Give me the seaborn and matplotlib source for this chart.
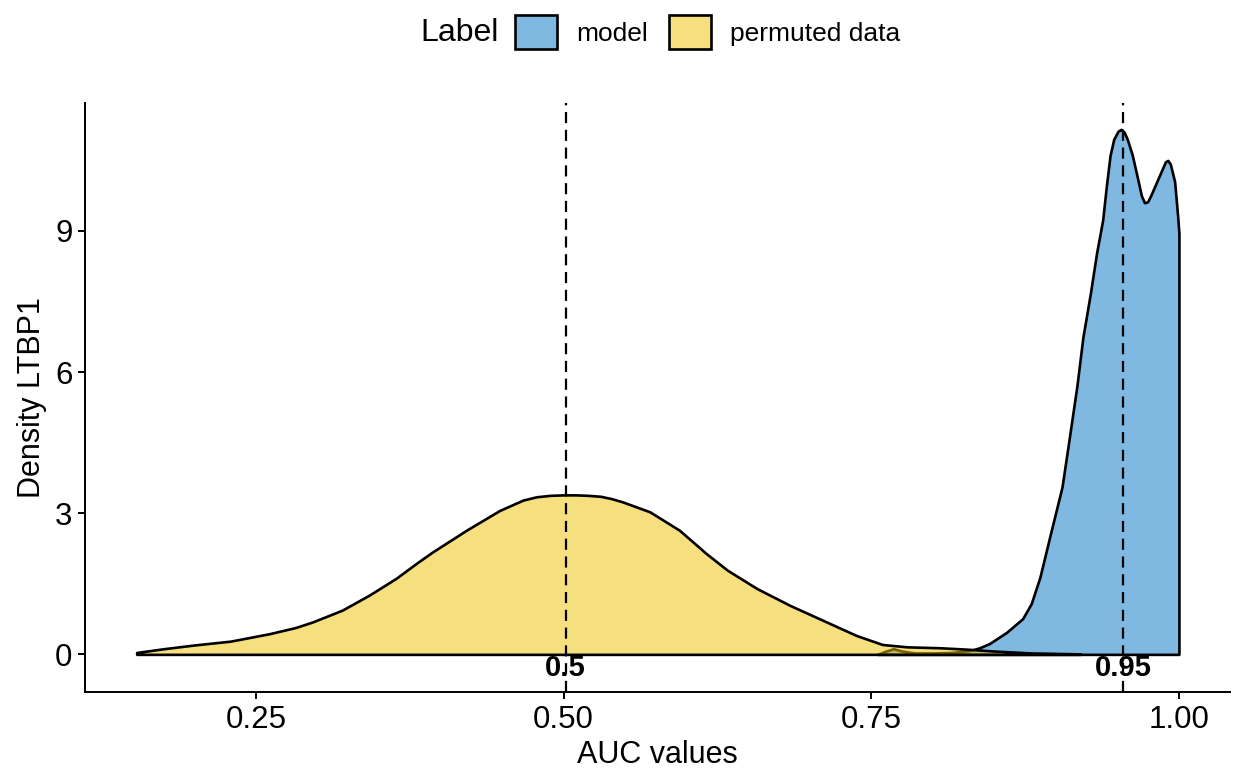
"""Density of AUC values for LTBP1: model vs permuted data."""

import matplotlib

matplotlib.use("Agg")

import matplotlib.pyplot as plt
import pandas as pd
import seaborn as sns
from matplotlib.colors import to_rgba
from matplotlib.patches import Patch

# density curves (x = AUC, y = density)
model_x = [0.755, 0.762, 0.768, 0.775, 0.785, 0.800, 0.815, 0.830, 0.838, 0.846,
           0.860, 0.873, 0.880, 0.887, 0.895, 0.905, 0.911, 0.917, 0.922, 0.928,
           0.933, 0.938, 0.941, 0.944, 0.947, 0.9505, 0.953, 0.9555, 0.958, 0.962,
           0.966, 0.9695, 0.972, 0.9745, 0.977, 0.982, 0.987, 0.989, 0.991, 0.993,
           0.9965, 0.999, 1.000]
model_y = [0.00, 0.07, 0.12, 0.07, 0.03, 0.03, 0.04, 0.08, 0.14, 0.23,
           0.47, 0.76, 1.08, 1.64, 2.50, 3.56, 4.62, 5.69, 6.75, 7.67,
           8.52, 9.23, 9.95, 10.60, 10.95, 11.12, 11.16, 11.10, 10.95, 10.62,
           10.16, 9.75, 9.60, 9.62, 9.75, 10.05, 10.35, 10.47, 10.50, 10.42,
           10.05, 9.30, 8.95]

perm_x = [0.153, 0.175, 0.200, 0.229, 0.261, 0.282, 0.296, 0.320, 0.342, 0.364,
          0.380, 0.393, 0.421, 0.448, 0.467, 0.478, 0.489, 0.500, 0.510, 0.520,
          0.530, 0.539, 0.548, 0.570, 0.594, 0.616, 0.633, 0.657, 0.684, 0.711,
          0.738, 0.759, 0.779, 0.806, 0.828, 0.850, 0.880, 0.920]
perm_y = [0.04, 0.12, 0.20, 0.28, 0.44, 0.57, 0.69, 0.94, 1.26, 1.62,
          1.93, 2.17, 2.64, 3.06, 3.28, 3.35, 3.38, 3.39, 3.39, 3.38,
          3.36, 3.31, 3.24, 3.03, 2.64, 2.14, 1.79, 1.40, 1.04, 0.72,
          0.40, 0.21, 0.16, 0.14, 0.11, 0.07, 0.03, 0.01]

groups = ["model", "permuted data"]
group_colors = ["#0073C2", "#EFC000"]

# mean AUC per group and their printed labels
mean_values = [0.9545, 0.5016]
mean_labels = ["0.95", "0.5"]
label_y = -0.28

x_ticks = [0.25, 0.50, 0.75, 1.00]
y_ticks = [0, 3, 6, 9]

sns.set_theme(style="ticks")
plt.rcParams["font.family"] = ["Liberation Sans", "DejaVu Sans"]
plt.rcParams["text.color"] = "black"

df = pd.concat(
    [
        pd.DataFrame({"auc": model_x, "density": model_y, "Label": groups[0]}),
        pd.DataFrame({"auc": perm_x, "density": perm_y, "Label": groups[1]}),
    ],
    ignore_index=True,
)
palette = dict(zip(groups, group_colors))

W, H = 1236, 778
fig = plt.figure(figsize=(W / 100, H / 100), dpi=100)
ax = fig.add_axes([85 / W, 1 - 692 / H, (1230 - 85) / W, (692 - 103) / H])

for name in groups:
    sub = df[df["Label"] == name]
    ax.fill_between(
        sub["auc"], 0, sub["density"],
        facecolor=to_rgba(palette[name], 0.5), edgecolor="black", linewidth=1.9,
        joinstyle="round",
    )

for m in mean_values:
    ax.axvline(m, color="black", linestyle=(0, (5, 3)), linewidth=1.6)

for m, txt in zip(mean_values, mean_labels):
    ax.text(m, label_y, txt, ha="center", va="center", fontsize=21,
            fontweight="bold", color="black")

ax.set_xlim(0.111, 1.0415)
ax.set_ylim(-0.80, 11.72)
ax.set_xticks(x_ticks)
ax.set_xticklabels([f"{t:.2f}" for t in x_ticks])
ax.set_yticks(y_ticks)
ax.set_yticklabels([str(t) for t in y_ticks])
ax.tick_params(axis="both", length=5, width=1.4, color="black", labelsize=22.5,
               labelcolor="black", pad=4)
ax.set_xlabel("AUC values", fontsize=22, color="black", labelpad=4)
ax.set_ylabel("Density LTBP1", fontsize=22, color="black", labelpad=6)
ax.grid(False)
sns.despine(ax=ax)
for side in ("left", "bottom"):
    ax.spines[side].set_linewidth(1.4)
    ax.spines[side].set_color("black")

handles = [
    Patch(facecolor=to_rgba(palette[g], 0.5), edgecolor="black", linewidth=1.9, label=g)
    for g in groups
]
fig.text(420 / W, 1 - 33 / H, "Label", fontsize=23, ha="left", va="center", color="black")
fig.legend(
    handles=handles, loc="center left", bbox_to_anchor=(515 / W, 1 - 32 / H),
    ncol=2, frameon=False, fontsize=19, handlelength=1.58, handleheight=1.55,
    handletextpad=0.75, columnspacing=0.78, borderpad=0, borderaxespad=0,
    labelcolor="black",
)

fig.savefig("out.png", dpi=100)
